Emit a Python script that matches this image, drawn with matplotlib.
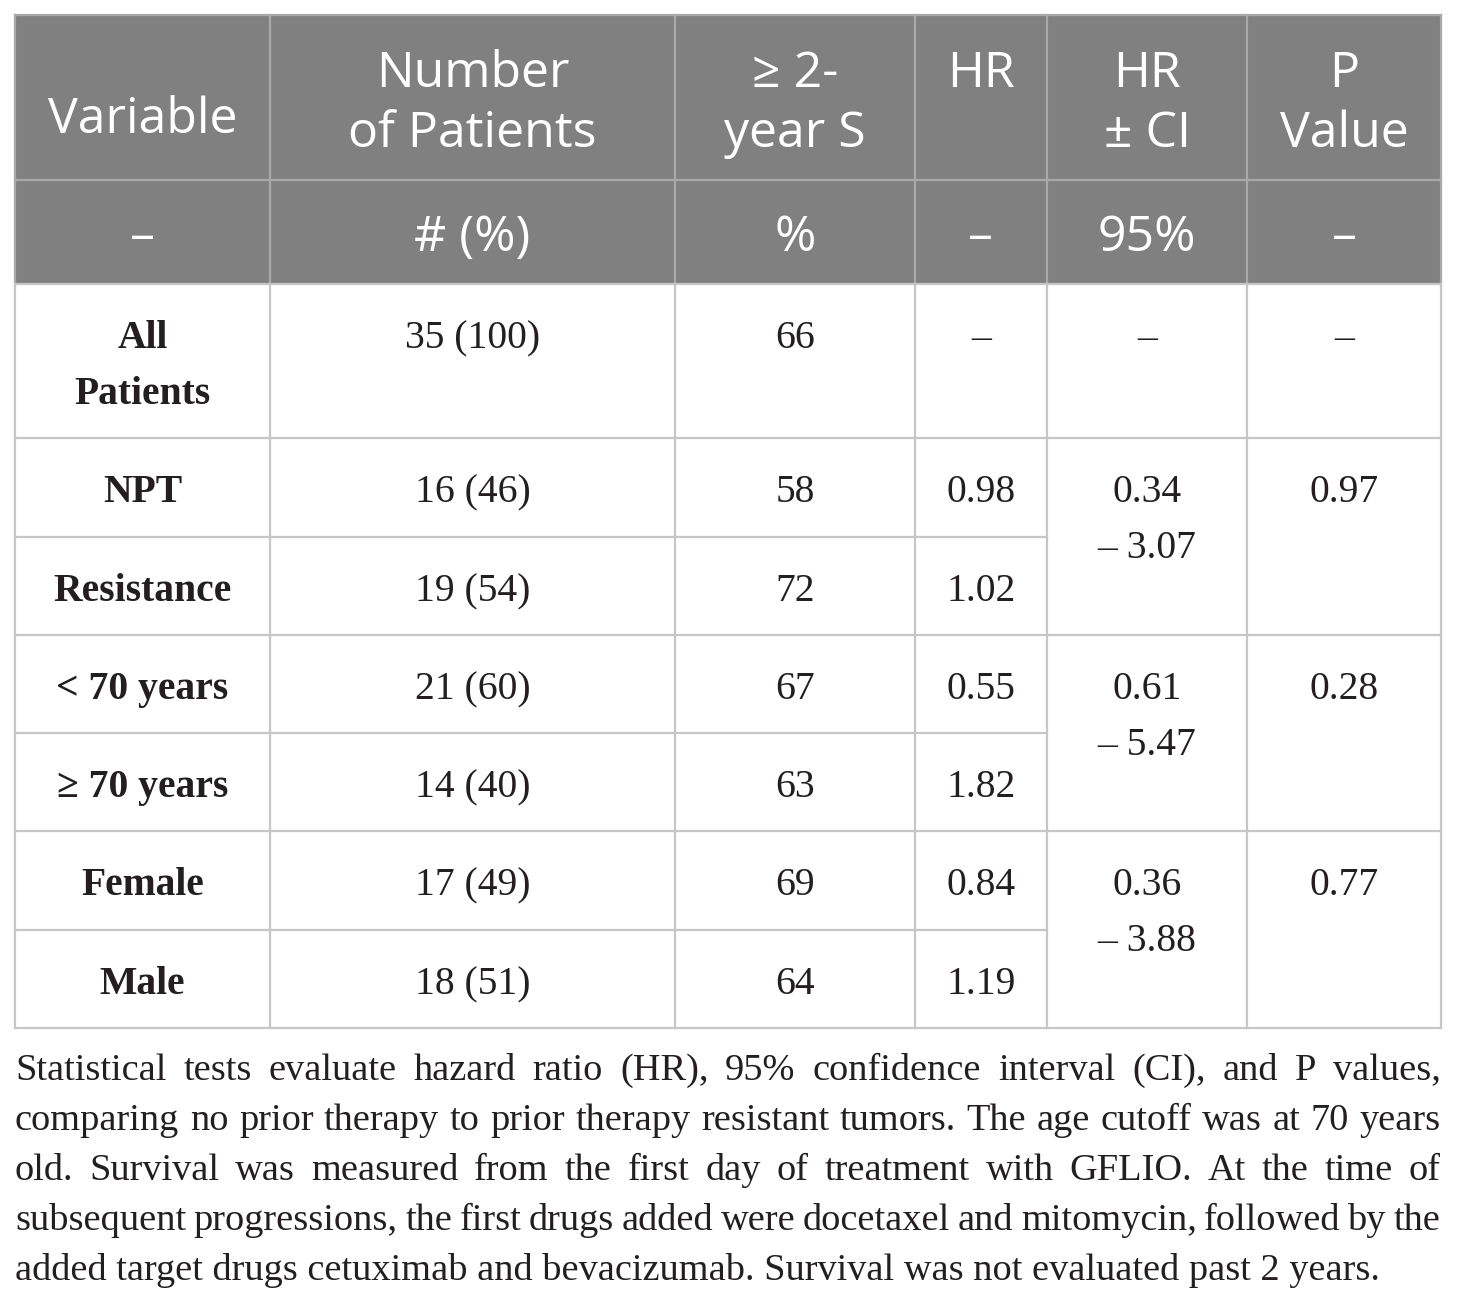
import matplotlib
matplotlib.use("Agg")
import matplotlib.pyplot as plt
from matplotlib.patches import Rectangle

# table content
variables = ["All\nPatients", "NPT", "Resistance", "< 70 years", "≥ 70 years", "Female", "Male"]
n_patients = ["35 (100)", "16 (46)", "19 (54)", "21 (60)", "14 (40)", "17 (49)", "18 (51)"]
surv_2y = ["66", "58", "72", "67", "63", "69", "64"]
hr = ["–", "0.98", "1.02", "0.55", "1.82", "0.84", "1.19"]
ci_95 = ["–", "0.34\n– 3.07", "0.61\n– 5.47", "0.36\n– 3.88"]
p_values = ["–", "0.97", "0.28", "0.77"]

header_top = ["Variable", "Number\nof Patients", "≥ 2-\nyear S", "HR", "HR\n± CI", "P\nValue"]
header_sub = ["–", "# (%)", "%", "–", "95%", "–"]

caption_lines = [
    "Statistical tests evaluate hazard ratio (HR), 95% confidence interval (CI), and P values,",
    "comparing no prior therapy to prior therapy resistant tumors. The age cutoff was at 70 years",
    "old. Survival was measured from the first day of treatment with GFLIO. At the time of",
    "subsequent progressions, the first drugs added were docetaxel and mitomycin, followed by the",
    "added target drugs cetuximab and bevacizumab. Survival was not evaluated past 2 years.",
]

# geometry (pixels)
col_x = [15, 270, 675, 915, 1047, 1247, 1441]
head_y = [15, 180, 284]
row_y = [284, 438, 537, 635, 733, 831, 930, 1028]
group_rows = [(0, 1), (1, 3), (3, 5), (5, 7)]  # merged spans for CI / P columns

HEAD = "Open Sans"
SERIF = "Liberation Serif"
grid_c = "#c6c6c6"

fig = plt.figure(figsize=(14.6, 13.05), dpi=100)
ax = fig.add_axes([0, 0, 1, 1])
ax.set_xlim(0, 1460)
ax.set_ylim(1305, 0)
ax.axis("off")

# header background
ax.add_patch(Rectangle((col_x[0], head_y[0]), col_x[-1] - col_x[0], head_y[-1] - head_y[0],
                       facecolor="#808080", edgecolor="none"))
for y in head_y[:2]:
    ax.plot([col_x[0], col_x[-1]], [y, y], color="#a9a9a9", lw=1.6)
for x in col_x:
    ax.plot([x, x], [head_y[0], head_y[-1]], color="#a9a9a9", lw=1.6)

# body grid
for x in col_x:
    ax.plot([x, x], [row_y[0], row_y[-1]], color=grid_c, lw=1.6)
for i, y in enumerate(row_y):
    full = any(y == row_y[a] for a, b in group_rows) or i == len(row_y) - 1
    x1 = col_x[-1] if full else col_x[4]
    ax.plot([col_x[0], x1], [y, y], color=grid_c, lw=1.6)

# header text
centers = [(col_x[i] + col_x[i + 1]) / 2 for i in range(len(col_x) - 1)]
for i, t in enumerate(header_top):
    lines = t.split("\n")
    if i == 0:
        ax.text(centers[i], 133, t, ha="center", va="baseline", color="white",
                fontsize=36, family=HEAD)
        continue
    for k, ln in enumerate(lines):
        ax.text(centers[i], 87 + 60 * k, ln, ha="center", va="baseline", color="white",
                fontsize=36, family=HEAD)
for i, t in enumerate(header_sub):
    ax.text(centers[i], 251, t, ha="center", va="baseline", color="white",
            fontsize=36, family=HEAD)

# body text
def cell(col, top, txt, bold=False):
    for k, ln in enumerate(txt.split("\n")):
        ax.text(centers[col], top + 64 + 56 * k, ln, ha="center", va="baseline",
                color="#231f20", fontsize=28.5, family=SERIF,
                fontweight="bold" if bold else "normal")

for r in range(len(variables)):
    top = row_y[r]
    cell(0, top, variables[r], bold=True)
    cell(1, top, n_patients[r])
    cell(2, top, surv_2y[r])
    cell(3, top, hr[r])
for g, (a, b) in enumerate(group_rows):
    cell(4, row_y[a], ci_95[g])
    cell(5, row_y[a], p_values[g])

# justified caption
fig.canvas.draw()
rend = fig.canvas.get_renderer()
cap_kw = dict(fontsize=27.6, family=SERIF, color="#231f20", va="baseline", ha="left")
for li, line in enumerate(caption_lines):
    y = 1080 + 50 * li
    if li == len(caption_lines) - 1:
        ax.text(col_x[0], y, line, **cap_kw)
        continue
    words = line.split()
    ts = [ax.text(0, y, w, **cap_kw) for w in words]
    widths = [t.get_window_extent(rend).width for t in ts]
    gap = (col_x[-1] - col_x[0] - sum(widths)) / (len(words) - 1)
    x = col_x[0]
    for t, w in zip(ts, widths):
        t.set_x(x)
        x += w + gap

fig.savefig("out.png", dpi=100)
